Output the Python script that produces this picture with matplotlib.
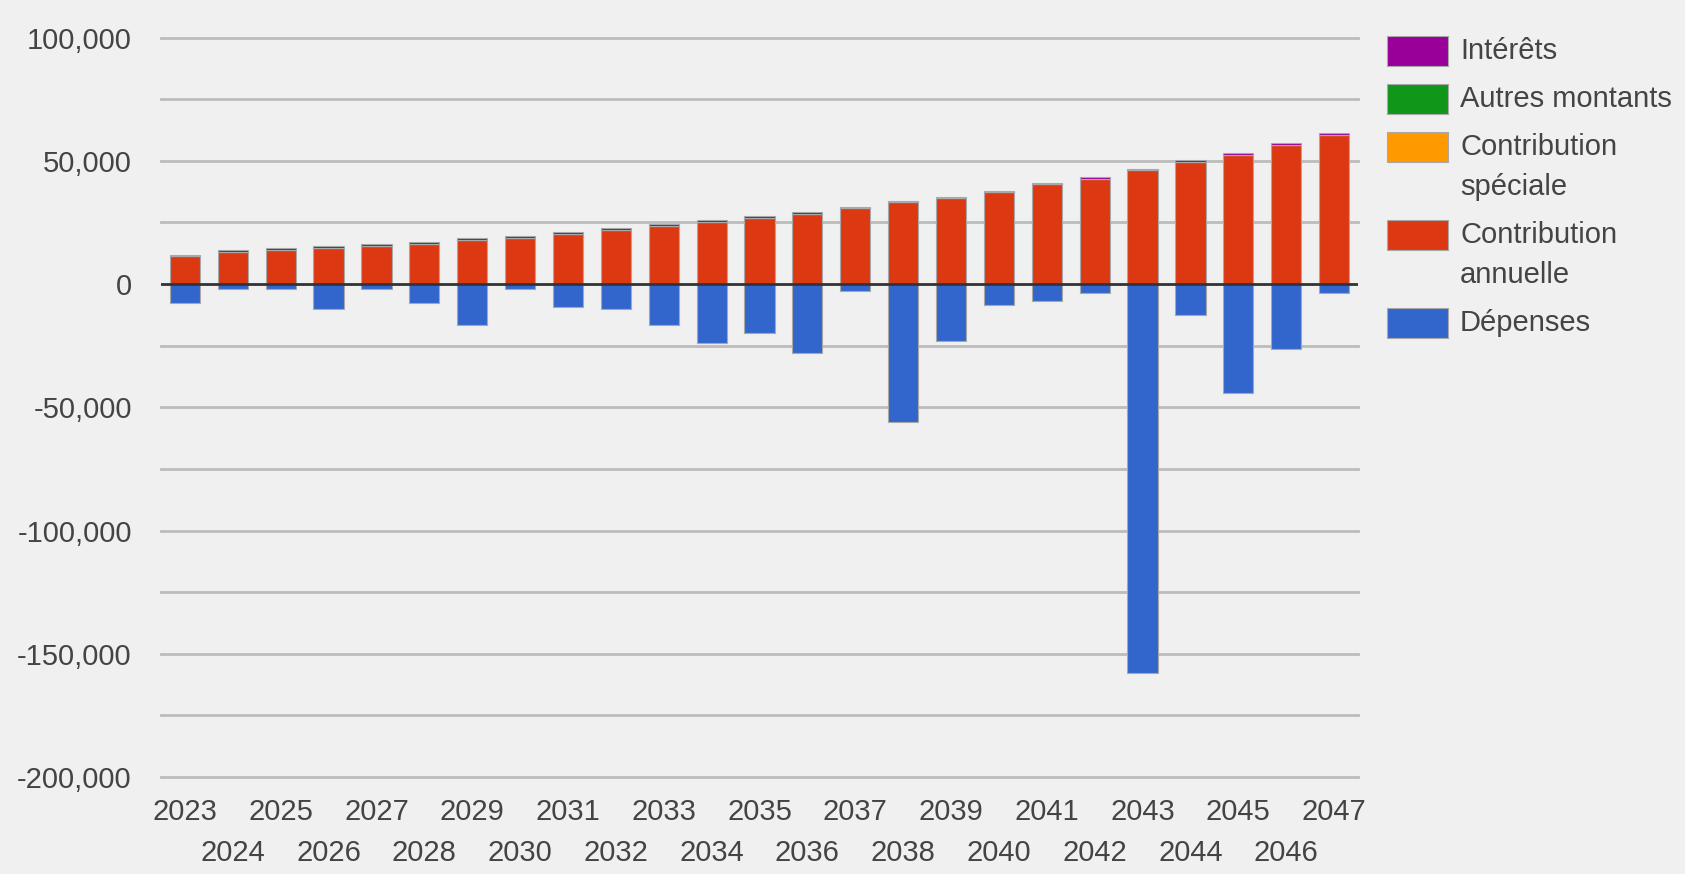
import numpy as np
import matplotlib
matplotlib.use("Agg")
import matplotlib.pyplot as plt
from matplotlib.patches import Rectangle
from matplotlib.ticker import FuncFormatter

years = list(range(2023, 2048))

# total height of positive stack
total_positive = [11970, 13700, 14630, 15300, 16240, 17050, 18660, 19340, 20950, 22700,
                  24300, 25900, 27700, 29300, 31430, 33850, 35460, 37880, 41100, 43520,
                  46870, 50250, 53200, 57230, 61260]
interets = [700] * 25
autres_montants = [0] * 25
contribution_speciale = [0] * 25
contribution_annuelle = [t - i for t, i in zip(total_positive, interets)]
depenses = [-7800, -2150, -2150, -10200, -2150, -7800, -16650, -2150, -9400, -10200,
            -16650, -23900, -19900, -27900, -2950, -56150, -23100, -8600, -6850, -3750,
            -157700, -12600, -44050, -26300, -3750]

series_names = ["Intérêts", "Autres montants", "Contribution\nspéciale",
                "Contribution\nannuelle", "Dépenses"]
colors = {"Intérêts": "#990099", "Autres montants": "#109618",
          "Contribution\nspéciale": "#ff9900", "Contribution\nannuelle": "#dc3912",
          "Dépenses": "#3366cc"}

W, H = 1685, 874
bg = "#f0f0f0"
text_col = "#444444"
fs = 21
plt.rcParams["font.family"] = ["Liberation Sans", "DejaVu Sans"]

fig = plt.figure(figsize=(W / 100, H / 100), dpi=100, facecolor=bg)
ax = fig.add_axes([161 / W, (H - 777) / H, (1358 - 161) / W, (777 - 37.6) / H])
ax.set_facecolor(bg)

x = np.arange(len(years))
bw = 0.63
edge = dict(edgecolor="#a8a8a8", linewidth=0.8, zorder=3)

# negative stack
ax.bar(x, depenses, bw, color=colors["Dépenses"], **edge)
# positive stack
bottom = np.zeros(len(years))
for name, vals in [("Contribution\nannuelle", contribution_annuelle),
                   ("Contribution\nspéciale", contribution_speciale),
                   ("Autres montants", autres_montants),
                   ("Intérêts", interets)]:
    vals = np.array(vals, dtype=float)
    ax.bar(x, vals, bw, bottom=bottom, color=colors[name], **edge)
    bottom += vals

ax.set_xlim(-0.5, len(years) - 0.5)
ax.set_ylim(-200000, 100000)
for y in range(-200000, 100001, 25000):
    if y == 0:
        continue
    ax.axhline(y, color="#bcbcbc", lw=2, zorder=1, clip_on=False)
ax.axhline(0, color="#333333", lw=2, zorder=4)

ax.set_yticks(range(-200000, 100001, 50000))
ax.yaxis.set_major_formatter(FuncFormatter(lambda v, p: "{:,}".format(int(v))))

# two rows of year labels
ax.set_xticks(x[0::2])
ax.set_xticklabels([str(yr) for yr in years[0::2]])
ax.set_xticks(x[1::2], minor=True)
ax.set_xticklabels([str(yr) for yr in years[1::2]], minor=True)

ax.tick_params(axis="both", which="both", length=0, labelsize=fs, colors=text_col)
ax.tick_params(axis="y", pad=21)
ax.tick_params(axis="x", which="major", pad=15)
ax.tick_params(axis="x", which="minor", pad=44.5)
for s in ax.spines.values():
    s.set_visible(False)

# legend drawn at right
legend_rows = [51, 99, 147, 235, 323]
for name, yc in zip(series_names, legend_rows):
    fig.add_artist(Rectangle((1387 / W, 1 - (yc + 15) / H), 61 / W, 30 / H,
                             transform=fig.transFigure, facecolor=colors[name],
                             edgecolor="#a8a8a8", linewidth=0.8))
    for k, line in enumerate(name.split("\n")):
        fig.text(1460 / W, 1 - (yc + 40 * k) / H, line, fontsize=fs,
                 color=text_col, va="center")

fig.savefig("out.png", dpi=100, facecolor=bg)
